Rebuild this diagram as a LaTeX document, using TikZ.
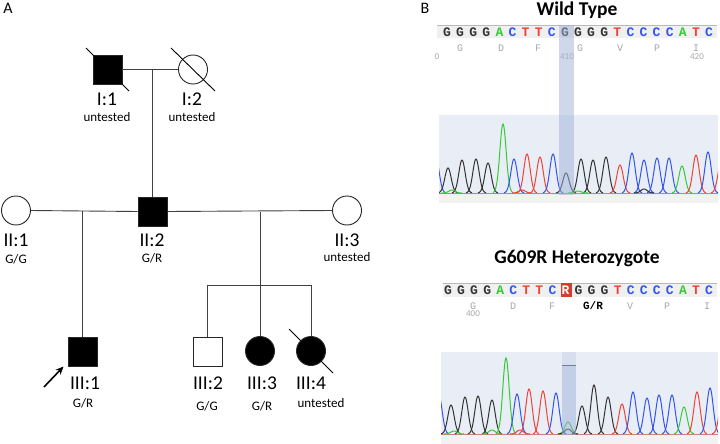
\documentclass[tikz,border=0pt]{standalone}
\usepackage{fontspec}
\setmainfont{Carlito}
\newfontfamily\seqfont{Liberation Mono}
\usetikzlibrary{positioning,arrows.meta}
\definecolor{seqG}{HTML}{333333}
\definecolor{seqA}{HTML}{33CC33}
\definecolor{seqC}{HTML}{3355EE}
\definecolor{seqT}{HTML}{EE4433}
\definecolor{seqR}{HTML}{FFFFFF}
\definecolor{panelbg}{HTML}{E9EDF6}
\definecolor{hlcol}{HTML}{9FB2D8}
\tikzset{
    male/.style={rectangle,draw=black!85,line width=0.9pt,minimum size=29pt,inner sep=0},
    female/.style={circle,draw=black!85,line width=0.9pt,minimum size=29pt,inner sep=0},
    affected/.style={fill=black},
    idlab/.style={font=\fontsize{19.5}{20}\selectfont,inner sep=0},
    genolab/.style={font=\fontsize{13}{14}\selectfont,inner sep=0},
    pedline/.style={draw=black!75,line width=0.9pt},
    strike/.style={draw=black,line width=0.9pt},
    panellab/.style={font=\fontsize{16}{16}\selectfont,inner sep=0},
    titlelab/.style={font=\bfseries\fontsize{19.5}{20}\selectfont,inner sep=0},
    seqbase/.style={font=\seqfont\bfseries\fontsize{13}{12}\selectfont,inner sep=0},
    amino/.style={font=\seqfont\fontsize{10}{10}\selectfont,text=black!35,inner sep=0},
    poslab/.style={font=\fontsize{9}{9}\selectfont,text=black!35,inner sep=0}
}
% one chromatogram peak: x, height, colour, baseline
\newcommand{\peak}[4]{\draw[#3,line width=1pt] plot[domain=-10:10,samples=35,smooth] ({#1+\x},{#4-#2*exp(-\x*\x/20)});}

\begin{document}
\begin{tikzpicture}[x=1pt,y=-1pt]
    \useasboundingbox (0,0) rectangle (720,444);
    \node[panellab] (labA) at (8,8) {A};
    \node[panellab] (labB) at (425,8) {B};

    % pedigree
    \node[male,affected] (I1) at (107.5,69.5) {};
    \node[female] (I2) at (193,69.5) {};
    \node[female] (II1) at (16,210.5) {};
    \node[male,affected] (II2) at (152.5,211.5) {};
    \node[female] (II3) at (347,210.5) {};
    \node[male,affected] (III1) at (82.5,351.5) {};
    \node[male] (III2) at (207.5,351.5) {};
    \node[female,affected] (III3) at (260,351) {};
    \node[female,affected] (III4) at (311,351) {};

    \draw[pedline] (I1.east) -- (I2.west);
    \draw[pedline] (II2.north) -- (II2.north |- I1.east);
    \draw[pedline] (II1.east) -- (II2.west);
    \draw[pedline] (II2.east) -- (II3.west);
    \draw[pedline] (III1.north) -- (III1.north |- II1.east);
    \draw[pedline] (III3.north) -- (III3.north |- II2.east);
    \coordinate (sib) at (260,285.7);
    \draw[pedline] (III2.north) |- (sib) -| (III4.north);

    % deceased
    \draw[strike] (I1.center) ++(-21.5,-21.5) -- ++(43,43);
    \draw[strike] (I2.center) ++(-22,-21.5) -- ++(44,43);
    \draw[strike] (III4.center) ++(-22,-22) -- ++(44,44);

    % proband
    \coordinate (arr) at (44,387);
    \coordinate (arrtip) at (63.5,366.5);
    \draw[-{Stealth[length=8pt,width=7pt]},line width=1.6pt] (arr) -- (arrtip);

    \node[idlab] (I1id) at (107,99) {I:1};
    \node[genolab] (I1g) at (107,117) {untested};
    \node[idlab] (I2id) at (192,99) {I:2};
    \node[genolab] (I2g) at (192,117) {untested};
    \node[idlab] (II1id) at (16,240) {II:1};
    \node[genolab] (II1g) at (16,259) {G/G};
    \node[idlab] (II2id) at (152,240) {II:2};
    \node[genolab] (II2g) at (152,258) {G/R};
    \node[idlab] (II3id) at (347,240) {II:3};
    \node[genolab] (II3g) at (347,257) {untested};
    \node[idlab] (III1id) at (85,383) {III:1};
    \node[genolab] (III1g) at (83,403) {G/R};
    \node[idlab] (III2id) at (208,383) {III:2};
    \node[genolab] (III2g) at (207,406) {G/G};
    \node[idlab] (III3id) at (262,383) {III:3};
    \node[genolab] (III3g) at (262,406) {G/R};
    \node[idlab] (III4id) at (311,383) {III:4};
    \node[genolab] (III4g) at (321,403) {untested};

    % wild type trace
    \node[titlelab] (wt) at (577,10) {Wild Type};
    \fill[gray!12] (437,25) rectangle (717,38);
    \draw[gray!55] (437,25) -- (717,25);
    \fill[panelbg] (439,115) rectangle (718,195);
    \fill[gray!10] (439,195) rectangle (718,203);
    \foreach \b [count=\i] in {G,G,G,G,A,C,T,T,C,G,G,G,G,T,C,C,C,C,A,T,C}
        \node[seqbase,text=seq\b] (wb\i) at ({447+(\i-1)*13.1},32) {\b};
    \foreach \a/\ax in {G/460,D/501,F/538,G/580,V/620,P/657,I/696}
        \node[amino] at (\ax,48) {\a};
    \node[poslab] (wp0) at (437,57) {0};
    \node[poslab] (wp1) at (567,57) {410};
    \node[poslab] (wp2) at (697,57) {420};
    \begin{scope}
        \clip (439,115) rectangle (718,195);
        \draw[seqT!70!black!60,line width=0.9pt] (439,193.5) -- (718,193.5);
        \foreach \px/\ph/\pc in {436/35/seqC,448/25/seqG,462/33/seqG,476/34/seqG,488/30/seqG,
            503/69/seqA,514/34/seqC,527/39/seqT,540/36/seqT,553/39/seqC,566/20/seqG,
            581/34/seqG,593/33/seqG,606/36/seqG,620/28/seqT,632/40/seqC,644/33/seqC,
            657/35/seqC,669/35/seqC,682/27/seqA,696/38/seqT,708/41/seqC,721/30/seqT,
            452/3/seqA,522/3/seqT,644/4/seqG,578/2/seqA}
            \peak{\px}{\ph}{\pc}{193};
    \end{scope}
    \fill[hlcol,opacity=0.5] (559,25) rectangle (574,195);

    % heterozygote trace
    \node[titlelab] (het) at (577,258) {G609R Heterozygote};
    \fill[gray!12] (443,283) rectangle (717,297);
    \draw[gray!55] (443,283) -- (717,283);
    \fill[seqT!90!black] (561,283) rectangle (572,297);
    \fill[panelbg] (441,352) rectangle (718,435);
    \fill[gray!10] (441,435) rectangle (718,444);
    \foreach \b [count=\i] in {G,G,G,G,A,C,T,T,C,R,G,G,G,T,C,C,C,C,A,T,C}
        \node[seqbase,text=seq\b] (hb\i) at ({448+(\i-1)*13.05},290) {\b};
    \foreach \a/\ax in {G/473,D/513,F/552,V/630,P/667,I/707}
        \node[amino] at (\ax,306) {\a};
    \node[amino,text=black,font=\seqfont\bfseries\fontsize{11}{11}\selectfont] (gr) at (593,306) {G/R};
    \node[poslab] (hp0) at (473,314) {400};
    \begin{scope}
        \clip (441,352) rectangle (718,435);
        \draw[seqT!70!black!60,line width=0.9pt] (441,434.5) -- (718,434.5);
        \foreach \px/\ph/\pc in {439/38/seqC,451/29/seqG,465/37/seqG,478/38/seqG,492/34/seqG,
            506/76/seqA,517/40/seqC,529/45/seqT,543/43/seqT,556/41/seqC,568/12/seqA,
            582/28/seqG,594/49/seqG,608/37/seqG,622/30/seqT,633/42/seqC,647/36/seqC,
            659/39/seqC,672/39/seqC,684/27/seqA,697/42/seqT,710/46/seqC,722/30/seqT,
            454/3/seqA,492/4/seqA,520/4/seqT,568/5/seqG}
            \peak{\px}{\ph}{\pc}{434};
    \end{scope}
    \fill[hlcol,opacity=0.5] (562,352) rectangle (576,435);
    \fill[white,opacity=0.35] (562,352) rectangle (576,365);
    \draw[hlcol!70!black,line width=0.4pt] (562,365) -- (576,365);
\end{tikzpicture}
\end{document}
